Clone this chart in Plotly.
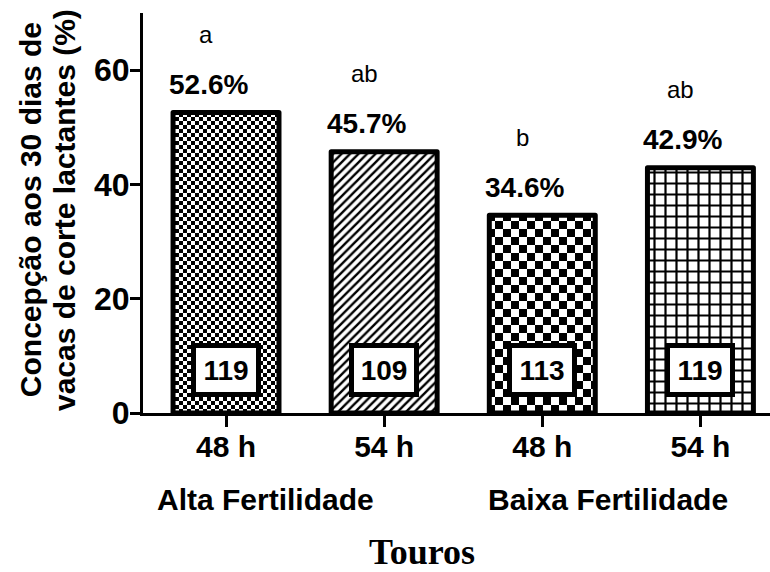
import plotly.graph_objects as go

# ---- data ----
tick_labels = ["48 h", "54 h", "48 h", "54 h"]
group_names = ["Alta Fertilidade", "Baixa Fertilidade"]
conception = [52.6, 45.7, 34.6, 42.9]
n_cows = [119, 109, 113, 119]
letters = ["a", "ab", "b", "ab"]

xpos = list(range(len(conception)))

SANS = "Arial, Liberation Sans, sans-serif"
SERIF = "Times New Roman, Liberation Serif, serif"

fig = go.Figure()
fig.add_trace(go.Bar(
    x=xpos, y=conception, width=0.67,
    marker=dict(
        color="white",
        line=dict(color="black", width=5),
        pattern=dict(shape=["x", "/", "x", "+"], size=[8, 6, 16, 11],
                     solidity=[0.5, 0.4, 0.5, 0.36],
                     fgcolor="black", bgcolor="white", fillmode="replace"),
    ),
    showlegend=False, hoverinfo="skip",
))

ann = []
for i, (v, n, l) in enumerate(zip(conception, n_cows, letters)):
    ann.append(dict(x=i, y=v, xref="x", yref="y", text=f"{v:.1f}%", showarrow=False,
                    xshift=-18, yshift=28, yanchor="middle",
                    font=dict(family=SANS, size=28, color="black", weight="bold")))
    ann.append(dict(x=i, y=v, xref="x", yref="y", text=l, showarrow=False,
                    xshift=-20, yshift=78, yanchor="middle",
                    font=dict(family=SANS, size=24, color="black")))
    ann.append(dict(x=i, y=0.1075, xref="x", yref="paper", text=str(n), showarrow=False,
                    yanchor="middle", bgcolor="white", bordercolor="black", borderwidth=5,
                    borderpad=4, width=52, height=36,
                    font=dict(family=SANS, size=28, color="black", weight="bold")))

group_x = [0.247, 2.418]
for gx, g in zip(group_x, group_names):
    ann.append(dict(x=gx, y=-0.215, xref="x", yref="paper", text=g, showarrow=False,
                    yanchor="middle",
                    font=dict(family=SANS, size=30, color="black", weight="bold")))

ann.append(dict(x=1.24, y=-0.3475, xref="x", yref="paper", text="Touros", showarrow=False,
                yanchor="middle", font=dict(family=SERIF, size=36, color="black", weight="bold")))

ytitle = ["Concepção aos 30 dias de", "vacas de corte lactantes (%)"]
for px, t in zip([-0.180, -0.126], ytitle):
    ann.append(dict(x=px, y=0.5075, xref="paper", yref="paper", text=t, showarrow=False,
                    textangle=-90, xanchor="center", yanchor="middle",
                    font=dict(family=SANS, size=30, color="black", weight="bold")))

fig.update_layout(
    template="none",
    width=770, height=572,
    margin=dict(l=143, r=0, t=13, b=159, pad=0),
    paper_bgcolor="white", plot_bgcolor="white",
    annotations=ann, bargap=0.3,
)
fig.update_xaxes(
    range=[-0.525, 3.44], tickvals=xpos, ticktext=tick_labels, automargin=False,
    showline=True, linecolor="black", linewidth=3,
    ticks="outside", ticklen=11, tickwidth=3, tickcolor="black",
    showgrid=False, zeroline=False, ticklabelstandoff=-6,
    tickfont=dict(family=SANS, size=30, color="black", weight="bold"),
)
fig.update_yaxes(
    range=[0, 70], tickvals=[0, 20, 40, 60], automargin=False,
    showline=True, linecolor="black", linewidth=3,
    ticks="outside", ticklen=10, tickwidth=3, tickcolor="black",
    showgrid=False, zeroline=False, ticklabelstandoff=-6,
    tickfont=dict(family=SANS, size=32, color="black", weight="bold"),
)

post = """
document.body.style.margin = '0';
document.body.style.padding = '0';
var gd = document.getElementById('{plot_id}');
function addChecker(id, s){
  var svg = gd.querySelector('svg.main-svg');
  var defs = svg.querySelector('defs');
  var ns = 'http://www.w3.org/2000/svg';
  var p = document.createElementNS(ns, 'pattern');
  p.setAttribute('id', id); p.setAttribute('patternUnits', 'userSpaceOnUse');
  p.setAttribute('width', 2*s); p.setAttribute('height', 2*s);
  var r0 = document.createElementNS(ns, 'rect');
  r0.setAttribute('width', 2*s); r0.setAttribute('height', 2*s); r0.setAttribute('fill', 'white');
  p.appendChild(r0);
  [[0,0],[s,s]].forEach(function(c){
    var r = document.createElementNS(ns, 'rect');
    r.setAttribute('x', c[0]); r.setAttribute('y', c[1]);
    r.setAttribute('width', s); r.setAttribute('height', s); r.setAttribute('fill', 'black');
    p.appendChild(r);
  });
  defs.appendChild(p);
}
addChecker('chkfine', 4);
addChecker('chkcoarse', 8);
var paths = gd.querySelectorAll('.barlayer .point path');
if (paths.length >= 3) {
  paths[0].style.fill = 'url(#chkfine)';
  paths[2].style.fill = 'url(#chkcoarse)';
}
paths.forEach(function(p){ p.style.strokeLinejoin = 'round'; });
"""

fig.write_html("out.html", post_script=post, config={"displayModeBar": False})
